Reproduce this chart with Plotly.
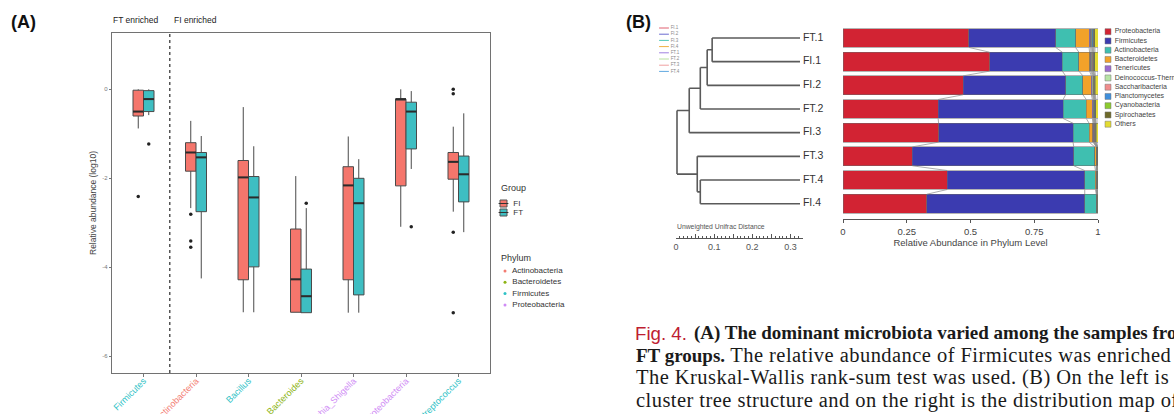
import plotly.graph_objects as go

W, H = 1174, 414


def px(x):
    return x / W


def py(y):
    return 1 - y / H


# ---------------- Panel A data (log10 relative abundance) ----------------
taxa = ["Firmicutes", "Actinobacteria", "Bacillus", "Bacteroides",
        "Escherichia_Shigella", "Gammaproteobacteria", "Streptococcus"]
taxa_phylum = ["Firmicutes", "Actinobacteria", "Firmicutes", "Bacteroidetes",
               "Proteobacteria", "Proteobacteria", "Firmicutes"]
n_ft_enriched = 1

fi_low = [-0.88, -2.67, -5.01, -5.01, -5.02, -3.09, -2.75]
fi_q1 = [-0.60, -1.84, -4.28, -5.01, -4.28, -2.17, -2.02]
fi_med = [-0.50, -1.42, -1.98, -4.27, -2.16, -0.22, -1.63]
fi_q3 = [-0.02, -1.20, -1.60, -3.14, -1.74, -0.22, -1.42]
fi_high = [0.0, -0.71, -0.40, -1.95, -1.06, 0.0, -0.84]
fi_out = [[-2.41], [-2.81, -3.41, -3.55], [], [], [], [], [0.0, -0.10, -3.21, -5.02]]

ft_low = [-0.58, -4.25, -5.01, -5.02, -5.02, -1.79, -3.21]
ft_q1 = [-0.50, -2.75, -3.99, -5.02, -4.62, -1.34, -2.53]
ft_med = [-0.22, -1.53, -2.43, -4.65, -2.56, -0.50, -1.91]
ft_q3 = [-0.03, -1.42, -1.96, -4.04, -2.00, -0.29, -1.50]
ft_high = [0.0, -1.05, -1.28, -2.67, -1.57, -0.04, -0.54]
ft_out = [[-1.23], [], [], [-2.56], [], [-3.09], []]

y_ticks_a = [0, -2, -4, -6]
phylum_a = ["Actinobacteria", "Bacteroidetes", "Firmicutes", "Proteobacteria"]
phylum_a_colors = ["#F37C72", "#8DB414", "#2EC2C6", "#CF8BF5"]
groups = ["FI", "FT"]
group_colors = ["#F5766C", "#3EBEC2"]

# ---------------- Panel B data ----------------
samples = ["FT.1", "FI.1", "FI.2", "FT.2", "FI.3", "FT.3", "FT.4", "FI.4"]
phyla = ["Proteobacteria", "Firmicutes", "Actinobacteria", "Bacteroidetes",
         "Tenericutes", "Deinococcus-Thermus", "Saccharibacteria",
         "Planctomycetes", "Cyanobacteria", "Spirochaetes", "Others"]
phyla_colors = ["#D22333", "#3B3BB0", "#3FBFB0", "#F2A22A", "#9B6BD0",
                "#B7E3A5", "#F08C8C", "#3F8FDB", "#8CCB2E", "#6E6A2A", "#E3DC32"]
proteobacteria = [0.494, 0.575, 0.471, 0.373, 0.375, 0.272, 0.409, 0.329]
firmicutes = [0.340, 0.285, 0.402, 0.490, 0.527, 0.633, 0.539, 0.619]
actinobacteria = [0.078, 0.065, 0.068, 0.091, 0.063, 0.082, 0.042, 0.045]
bacteroidetes = [0.053, 0.042, 0.033, 0.024, 0.015, 0.006, 0.003, 0.002]
tenericutes = [0.006, 0.005, 0.004, 0.004, 0.003, 0.001, 0.001, 0.001]
deinococcus_thermus = [0.004, 0.004, 0.003, 0.002, 0.002, 0.001, 0.001, 0.001]
saccharibacteria = [0.003, 0.003, 0.002, 0.002, 0.002, 0.001, 0.001, 0.0005]
planctomycetes = [0.003, 0.003, 0.002, 0.002, 0.002, 0.001, 0.001, 0.0005]
cyanobacteria = [0.003, 0.002, 0.002, 0.002, 0.002, 0.001, 0.001, 0.001]
spirochaetes = [0.004, 0.004, 0.003, 0.002, 0.002, 0.001, 0.001, 0.001]
others = [0.012, 0.012, 0.010, 0.008, 0.007, 0.001, 0.001, 0.0005]
abundance = [proteobacteria, firmicutes, actinobacteria, bacteroidetes, tenericutes,
             deinococcus_thermus, saccharibacteria, planctomycetes, cyanobacteria,
             spirochaetes, others]

# UPGMA tree (unweighted UniFrac): (left, right, height); internal nodes named n0, n1...
tree_merges = [("FT.1", "FI.1", 0.230), ("n0", "FI.2", 0.243), ("n1", "FT.2", 0.261),
               ("n2", "FI.3", 0.290), ("FT.4", "FI.4", 0.261), ("FT.3", "n4", 0.269),
               ("n3", "n5", 0.322)]

mini_legend = ["FI.1", "FI.2", "FI.3", "FI.4", "FT.1", "FT.2", "FT.3", "FT.4"]
mini_colors = ["#E06070", "#6A6AD0", "#50C8B8", "#F0B040", "#A080E0", "#B8E0A0",
               "#F0A0A0", "#60A8E0"]

BOLD = '<b><span style="font-size:19px">%s</span></b>'
REG = '<span style="letter-spacing:0.45px">%s</span>'
caption_lines = [
    BOLD % "(A) The dominant microbiota varied among the samples from the FI and",
    (BOLD % "FT groups.") + (REG % " The relative abundance of Firmicutes was enriched in the FT group."),
    REG % "The Kruskal-Wallis rank-sum test was used. (B) On the left is the UPGMA",
    REG % "cluster tree structure and on the right is the distribution map of the",
]

fig = go.Figure()

# ---------------- Panel A: boxplots ----------------
cat_x = list(range(1, len(taxa) + 1))
dodge, bw = 0.1, 0.2
col_map = dict(zip(phylum_a, phylum_a_colors))
stats = [(fi_low, fi_q1, fi_med, fi_q3, fi_high, fi_out, -dodge),
         (ft_low, ft_q1, ft_med, ft_q3, ft_high, ft_out, dodge)]
for (lo, q1, md, q3, hi, out, off), gcol in zip(stats, group_colors):
    xs = [c + off for c in cat_x]
    fig.add_trace(go.Box(x=xs, q1=q1, median=md, q3=q3, lowerfence=lo, upperfence=hi,
                         width=bw, fillcolor=gcol, line=dict(color="#4a4a4a", width=1),
                         whiskerwidth=0, boxpoints=False, xaxis="x", yaxis="y",
                         hoverinfo="skip"))
    mx, my = [], []
    for x, m in zip(xs, md):
        mx += [x - bw / 2, x + bw / 2, None]
        my += [m, m, None]
    fig.add_trace(go.Scatter(x=mx, y=my, mode="lines", line=dict(color="#2b2b2b", width=2),
                             xaxis="x", yaxis="y", hoverinfo="skip"))
    ox, oy = [], []
    for x, vals in zip(xs, out):
        ox += [x] * len(vals)
        oy += vals
    fig.add_trace(go.Scatter(x=ox, y=oy, mode="markers",
                             marker=dict(color="#222", size=3.5), xaxis="x", yaxis="y",
                             hoverinfo="skip"))

tick_text = ['<span style="color:%s">%s</span>' % (col_map[p], t)
             for t, p in zip(taxa, taxa_phylum)]

# ---------------- Panel B: dendrogram ----------------
node_y = {s: i for i, s in enumerate(samples)}
node_h = {s: 0.0 for s in samples}
tx, ty = [], []
for k, (l, r, h) in enumerate(tree_merges):
    for c in (l, r):
        tx += [node_h[c], h, None]
        ty += [node_y[c], node_y[c], None]
    tx += [h, h, None]
    ty += [node_y[l], node_y[r], None]
    node_y["n%d" % k] = (node_y[l] + node_y[r]) / 2
    node_h["n%d" % k] = h
fig.add_trace(go.Scatter(x=tx, y=ty, mode="lines", line=dict(color="#5a5a5a", width=1.6),
                         xaxis="x2", yaxis="y2", hoverinfo="skip"))
fig.add_trace(go.Scatter(x=[0] * len(samples), y=list(range(len(samples))), mode="text",
                         text=[" " + s for s in samples], textposition="middle right",
                         cliponaxis=False, textfont=dict(size=10.5, color="#333"),
                         xaxis="x2", yaxis="y2", hoverinfo="skip"))

# ---------------- Panel B: stacked bars ----------------
rows = list(range(len(samples)))
bar_w = 0.8
for name, vals, col in zip(phyla, abundance, phyla_colors):
    fig.add_trace(go.Bar(y=rows, x=vals, orientation="h", width=bar_w, name=name,
                         marker=dict(color=col, line=dict(color="#6a6a6a", width=0.5)),
                         xaxis="x3", yaxis="y3", hoverinfo="skip"))
# connectors between adjacent bars
cx, cy = [], []
for i in range(len(samples) - 1):
    c_top, c_bot = 0.0, 0.0
    for vals in abundance:
        c_top += vals[i]
        c_bot += vals[i + 1]
        cx += [c_top, c_bot, None]
        cy += [i + bar_w / 2, i + 1 - bar_w / 2, None]
fig.add_trace(go.Scatter(x=cx, y=cy, mode="lines", line=dict(color="#8a8a8a", width=0.7),
                         xaxis="x3", yaxis="y3", hoverinfo="skip"))

# scale bar axis (distance)
fig.add_trace(go.Scatter(x=[0, 0.33], y=[0, 0], mode="lines", line=dict(width=0),
                         xaxis="x4", yaxis="y4", hoverinfo="skip"))

# ---------------- legends (pixel overlay axis) ----------------
fig.add_trace(go.Scatter(x=[503.5] * 2, y=[203.5 + 9 * i for i in range(2)], mode="markers+text",
                         marker=dict(symbol="square", size=7, color=group_colors,
                                     line=dict(color="#555", width=1)),
                         text=["  " + g for g in groups], textposition="middle right",
                         textfont=dict(size=8, color="#333"), cliponaxis=False,
                         xaxis="x5", yaxis="y5", hoverinfo="skip"))
fig.add_trace(go.Scatter(x=[503.5] * 2, y=[203.5 + 9 * i for i in range(2)], mode="markers",
                         marker=dict(symbol="line-ew", size=7, line=dict(color="#333", width=1)),
                         xaxis="x5", yaxis="y5", hoverinfo="skip"))
fig.add_trace(go.Scatter(x=[505] * 4, y=[271 + 11.3 * i for i in range(4)], mode="markers+text",
                         marker=dict(size=3, color=phylum_a_colors),
                         text=["  " + p for p in phylum_a], textposition="middle right",
                         textfont=dict(size=8, color="#333"), cliponaxis=False,
                         xaxis="x5", yaxis="y5", hoverinfo="skip"))
fig.add_trace(go.Scatter(x=[1108] * len(phyla), y=[31.7 + 9.25 * i for i in range(len(phyla))],
                         mode="markers+text",
                         marker=dict(symbol="square", size=6, color=phyla_colors,
                                     line=dict(color="#777", width=0.5)),
                         text=[" " + p for p in phyla], textposition="middle right",
                         textfont=dict(size=7, color="#444"), cliponaxis=False,
                         xaxis="x5", yaxis="y5", hoverinfo="skip"))
fig.add_trace(go.Scatter(x=[664] * len(mini_legend), y=[28 + 6.2 * i for i in range(len(mini_legend))],
                         mode="markers+text",
                         marker=dict(symbol="line-ew", size=7,
                                     line=dict(color=mini_colors, width=1)),
                         text=[" " + m for m in mini_legend], textposition="middle right",
                         textfont=dict(size=4.5, color="#888"), cliponaxis=False,
                         xaxis="x5", yaxis="y5", hoverinfo="skip"))

annotations = [
    dict(text="<b>(A)</b>", x=px(9), y=py(22), xref="paper", yref="paper", xanchor="left",
         yanchor="middle", showarrow=False, font=dict(size=18, color="#111")),
    dict(text="<b>(B)</b>", x=px(624), y=py(22), xref="paper", yref="paper", xanchor="left",
         yanchor="middle", showarrow=False, font=dict(size=18, color="#111")),
    dict(text="FT enriched", x=px(111), y=py(20), xref="paper", yref="paper", xanchor="left",
         yanchor="middle", showarrow=False, font=dict(size=8.5, color="#222")),
    dict(text="FI enriched", x=n_ft_enriched + 0.5, xshift=2, y=py(20), xref="x", yref="paper",
         xanchor="left", yanchor="middle", showarrow=False, font=dict(size=8.5, color="#222")),
    dict(text="Group", x=px(499), y=py(188), xref="paper", yref="paper", xanchor="left",
         yanchor="middle", showarrow=False, font=dict(size=9, color="#333")),
    dict(text="Phylum", x=px(499), y=py(258), xref="paper", yref="paper", xanchor="left",
         yanchor="middle", showarrow=False, font=dict(size=9, color="#333")),
    dict(text="Unweighted Unifrac Distance", x=px(675), y=py(227), xref="paper", yref="paper",
         xanchor="left", yanchor="middle", showarrow=False, font=dict(size=6.8, color="#555")),
    dict(text="Fig. 4.", x=px(633), y=py(333), xref="paper", yref="paper", xanchor="left",
         yanchor="middle", showarrow=False,
         font=dict(size=18.7, color="#BE1E32", family="Liberation Sans")),
]
for i, line in enumerate(caption_lines):
    annotations.append(dict(text=line,
                            x=px(692 if i == 0 else 634), y=py(333 + 22.4 * i),
                            xref="paper", yref="paper", xanchor="left", yanchor="middle",
                            showarrow=False,
                            font=dict(size=20.5, color="#1a1a1a", family="Liberation Serif")))

shapes = [dict(type="line", xref="x", yref="y domain", x0=n_ft_enriched + 0.5,
               x1=n_ft_enriched + 0.5, y0=0, y1=1,
               line=dict(color="#555", width=1.5, dash="dot"))]

bar_dom = [py(219.3), py(26.15)]
bar_range = [len(samples) - 1 + 0.66, -0.5]

fig.update_layout(
    width=W, height=H, margin=dict(l=0, r=0, t=0, b=0),
    paper_bgcolor="white", plot_bgcolor="rgba(0,0,0,0)",
    showlegend=False, barmode="stack",
    font=dict(family="Liberation Sans, Arial", color="#333"),
    annotations=annotations, shapes=shapes,
    xaxis=dict(domain=[px(112), px(490)], range=[0.4, len(taxa) + 0.6], anchor="y",
               tickvals=cat_x, ticktext=tick_text, tickangle=-45, ticklabelstandoff=-5,
               tickfont=dict(size=9), ticks="outside", ticklen=3, tickcolor="#777",
               showline=True, mirror=True, linecolor="#727272", linewidth=1.4,
               showgrid=False, zeroline=False, automargin=False),
    yaxis=dict(domain=[py(373), py(33)], range=[-6.375, 1.265], anchor="x",
               tickvals=y_ticks_a, ticktext=[str(v) for v in y_ticks_a],
               tickfont=dict(size=6, color="#777"), ticks="outside", ticklen=2,
               tickcolor="#777", showline=True, mirror=True, linecolor="#727272",
               linewidth=1.4, showgrid=False, zeroline=False, automargin=False,
               title=dict(text="Relative abundance (log10)", standoff=4,
                          font=dict(size=8.5, color="#444"))),
    xaxis2=dict(domain=[px(650), px(805)], range=[0.3927, -0.0131], anchor="y2",
                visible=False),
    yaxis2=dict(domain=bar_dom, range=bar_range, anchor="x2", visible=False),
    xaxis3=dict(domain=[px(843), px(1098)], range=[0, 1], anchor="y3",
                tickvals=[0, 0.25, 0.5, 0.75, 1], ticktext=["0", "0.25", "0.5", "0.75", "1"],
                tickfont=dict(size=9.5, color="#444"), ticks="outside", ticklen=3,
                tickcolor="#555", showline=True, linecolor="#555", linewidth=1,
                showgrid=False, zeroline=False, automargin=False,
                title=dict(text="Relative Abundance in Phylum Level", standoff=0,
                           font=dict(size=9.5, color="#444"))),
    yaxis3=dict(domain=bar_dom, range=bar_range, anchor="x3", visible=False),
    xaxis4=dict(domain=[px(676), px(802.7)], range=[0, 0.332], anchor="y4",
                tickvals=[0, 0.05, 0.1, 0.15, 0.2, 0.25, 0.3],
                ticktext=["0", "", "0.1", "", "0.2", "", "0.3"],
                tickfont=dict(size=9, color="#555"), ticks="inside", ticklen=4,
                tickcolor="#555", showline=True, linecolor="#555", linewidth=1,
                minor=dict(dtick=0.01, tick0=0, ticks="inside", ticklen=2, tickcolor="#555"),
                showgrid=False, zeroline=False, automargin=False),
    yaxis4=dict(domain=[py(238), py(234)], range=[0, 1], anchor="x4", visible=False),
    xaxis5=dict(domain=[0, 1], range=[0, W], anchor="y5", visible=False),
    yaxis5=dict(domain=[0, 1], range=[H, 0], anchor="x5", visible=False),
)

fig.write_html("out.html", config={"displayModeBar": False},
               post_script="document.body.style.margin='0px';")
